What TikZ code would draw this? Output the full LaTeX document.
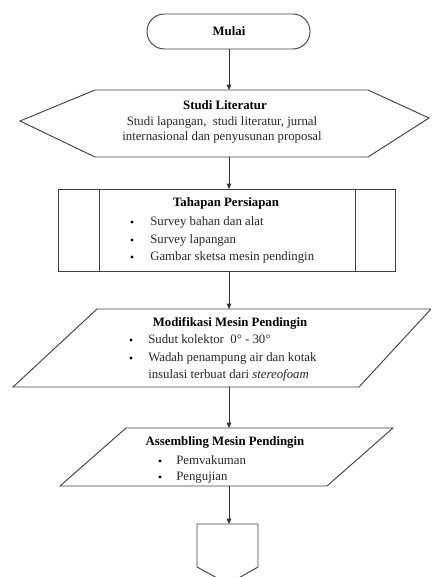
\documentclass[tikz,border=0pt]{standalone}
\usepackage{fontspec}
\setmainfont{Liberation Serif}
\usetikzlibrary{arrows.meta}
\begin{document}
\begin{tikzpicture}[x=0.75pt,y=-0.75pt,
  shape line/.style={draw=black!75,line width=0.7pt},
  flow/.style={draw=black!80,line width=0.7pt,-{Triangle[length=4pt,width=3.5pt]}},
  ttl/.style={font=\fontsize{9.6}{11}\selectfont\bfseries,anchor=mid,inner sep=0pt},
  txt/.style={font=\fontsize{9.6}{11}\selectfont,anchor=mid west,inner sep=0pt,text=black!85},
  ctxt/.style={font=\fontsize{9.6}{11}\selectfont,anchor=mid,inner sep=0pt,text=black!85},
  bul/.style={fill=black,circle,inner sep=0pt,minimum size=2.6pt}]
\useasboundingbox (0,0) rectangle (431,577);
\clip (0,0) rectangle (431,577);

% Mulai terminal
\draw[shape line,rounded corners=13pt] (147,14) rectangle (310,49);
\node[ttl] (mulai) at (229,32) {Mulai};
\coordinate (t1b) at (229,49);

% Hexagon Studi Literatur
\draw[shape line] (95,90) -- (368,90) -- (429,118) -- (368,157) -- (95,157) -- (20,121) -- cycle;
\coordinate (h1t) at (229,90);
\coordinate (h1b) at (229,157);
\node[ttl] (sl) at (225,106) {Studi Literatur};
\node[ctxt] (sl1) at (222,122) {Studi lapangan,\ \ studi literatur, jurnal};
\node[ctxt] (sl2) at (222,137) {internasional dan penyusunan proposal};

% Predefined process box
\draw[shape line] (58,189) rectangle (395,271);
\draw[shape line] (99,189) -- (99,271);
\draw[shape line] (355,189) -- (355,271);
\coordinate (p1t) at (229,189);
\coordinate (p1b) at (229,271);
\node[ttl] (tp) at (226,203) {Tahapan Persiapan};
\node[bul] (tpb1) at (132,222) {};
\node[txt] (tp1) at (150,222) {Survey bahan dan alat};
\node[bul] (tpb2) at (132,240) {};
\node[txt] (tp2) at (150,240) {Survey lapangan};
\node[bul] (tpb3) at (132,257) {};
\node[txt] (tp3) at (150,257) {Gambar sketsa mesin pendingin};

% Parallelogram Modifikasi
\draw[shape line] (97,309) -- (431,309) -- (359,387) -- (13,387) -- cycle;
\coordinate (m1t) at (229,309);
\coordinate (m1b) at (229,387);
\node[ttl] (mm) at (230,323) {Modifikasi Mesin Pendingin};
\node[bul] (mmb1) at (131,340) {};
\node[txt] (mm1) at (148,340) {Sudut kolektor\ \ 0° - 30°};
\node[bul] (mmb2) at (131,358) {};
\node[txt] (mm2) at (148,358) {Wadah penampung air dan kotak};
\node[txt] (mm3) at (148,375) {insulasi terbuat dari \textit{stereofoam}};

% Parallelogram Assembling
\draw[shape line] (126,428) -- (393,428) -- (327,486) -- (60,486) -- cycle;
\coordinate (a1t) at (229,428);
\coordinate (a1b) at (229,486);
\node[ttl] (as) at (225,442) {Assembling Mesin Pendingin};
\node[bul] (asb1) at (160,461) {};
\node[txt] (as1) at (176,461) {Pemvakuman};
\node[bul] (asb2) at (160,477) {};
\node[txt] (as2) at (176,477) {Pengujian};

% Off-page connector
\draw[shape line] (197,524) -- (258,524) -- (258,567) -- (228,584) -- (197,567) -- cycle;
\coordinate (o1t) at (229,524);

% Connectors
\draw[flow] (t1b) -- (h1t);
\draw[flow] (h1b) -- (p1t);
\draw[flow] (p1b) -- (m1t);
\draw[flow] (m1b) -- (a1t);
\draw[flow] (a1b) -- (o1t);
\end{tikzpicture}
\end{document}
